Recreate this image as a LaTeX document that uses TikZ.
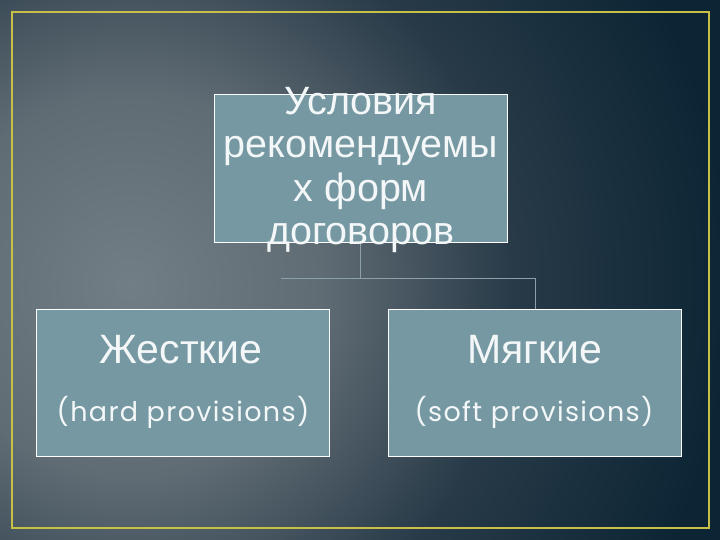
\documentclass[tikz,border=0pt]{standalone}
\usepackage{fontspec}
\setmainfont{Liberation Sans}
\newfontfamily\provfont[LetterSpace=5]{Poppins}
\usetikzlibrary{positioning}

\definecolor{bgdark}{RGB}{12,37,52}
\definecolor{glowA}{RGB}{114,126,133}
\definecolor{glowB}{RGB}{96,108,116}
\definecolor{glowC}{RGB}{40,58,72}
\definecolor{boxfill}{RGB}{117,152,162}
\definecolor{frameyellow}{RGB}{200,192,70}
\definecolor{linkgray}{RGB}{140,160,170}
\definecolor{textwhite}{RGB}{244,247,247}

\pgfdeclareradialshading{bgglow}{\pgfpoint{0bp}{0bp}}{color(0bp)=(glowA); color(8bp)=(glowB); color(16bp)=(glowC); color(25bp)=(bgdark); color(50bp)=(bgdark)}

\begin{document}
\begin{tikzpicture}[x=1pt, y=-1pt, node distance=2cm]
        \tikzstyle{box} = [rectangle, draw=white, line width=1pt, fill=boxfill, minimum width=293pt, minimum height=147pt, inner sep=0pt]
        \tikzstyle{link} = [draw=linkgray, line width=0.8pt]
        \tikzstyle{lbl} = [text=textwhite, align=center, inner sep=0pt]

        \useasboundingbox (0,0) rectangle (720,540);
        % background
        \begin{scope}
            \clip (0,0) rectangle (720,540);
            \fill[bgdark] (0,0) rectangle (720,540);
            \shade[shading=bgglow] (130,285) circle (600);
        \end{scope}
        \draw[frameyellow, line width=2pt] (12,12) rectangle (709,528);

        \node [box] (cond) at (360.5,168.5) {};
        \node [box] (hard) at (183,382.5) {};
        \node [box] (soft) at (535,382.5) {};

        \coordinate (fork) at (360.5,278);
        \draw [link] (cond.south) -- (fork);
        \draw [link] (fork) -- ++(-80,0);
        \draw [link] (fork) -| (soft.north);

        \node [lbl, font=\fontsize{39.5}{43.5}\selectfont] (condText) at (361,170) {Условия\\рекомендуемы\\х форм\\договоров};
        \node [lbl, font=\fontsize{41}{44}\selectfont, anchor=base] (hardRu) at (181,363) {Жесткие};
        \node [lbl, font=\provfont\fontsize{27}{30}\selectfont, anchor=base] (hardEn) at (183,421) {(hard provisions)};
        \node [lbl, font=\fontsize{41}{44}\selectfont, anchor=base] (softRu) at (535,363) {Мягкие};
        \node [lbl, font=\provfont\fontsize{27}{30}\selectfont, anchor=base] (softEn) at (534,421) {(soft provisions)};
    \end{tikzpicture}
\end{document}
